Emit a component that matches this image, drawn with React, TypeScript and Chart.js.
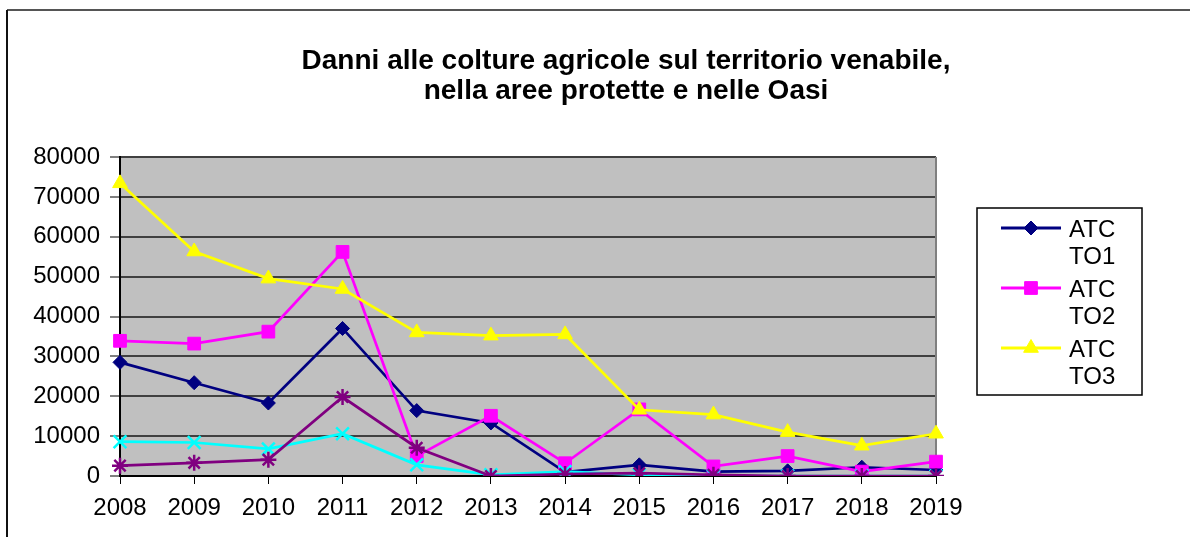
import React, { useEffect, useRef } from 'react';
import { Chart, registerables } from 'chart.js';
import { drawPoint } from 'chart.js/helpers';

Chart.register(...registerables);

const years = ['2008', '2009', '2010', '2011', '2012', '2013', '2014', '2015', '2016', '2017', '2018', '2019'];
const atcTo1 = [28500, 23400, 18300, 37000, 16400, 13300, 1000, 2800, 1100, 1300, 2200, 1500];
const atcTo2 = [33900, 33200, 36200, 56200, 5000, 15100, 3200, 16700, 2400, 5000, 1100, 3600];
const atcTo3 = [73400, 56300, 49500, 46900, 36000, 35200, 35500, 16600, 15400, 11000, 7600, 10600];
const serie4 = [8600, 8400, 6800, 10600, 2800, 300, 1100, 300, 0, 0, 0, 0];
const serie5 = [2600, 3300, 4100, 19800, 7100, 0, 500, 700, 300, 0, 0, 0];
const yTicks = [0, 10000, 20000, 30000, 40000, 50000, 60000, 70000, 80000];
const titleLines = ['Danni alle colture agricole sul territorio venabile,', 'nella aree protette e nelle Oasi'];
const legendCount = 3;

const FONT = '"Liberation Sans", Arial, sans-serif';

const decorPlugin = {
  id: 'decor',
  beforeDraw(chart: any) {
    const { ctx, chartArea } = chart;
    ctx.save();
    ctx.fillStyle = '#C0C0C0';
    ctx.fillRect(chartArea.left, chartArea.top, chartArea.right - chartArea.left, chartArea.bottom - chartArea.top);
    ctx.restore();
  },
  beforeDatasetsDraw(chart: any) {
    const { ctx, chartArea } = chart;
    ctx.save();
    ctx.strokeStyle = '#808080';
    ctx.lineWidth = 2;
    ctx.beginPath();
    ctx.moveTo(chartArea.right, chartArea.top);
    ctx.lineTo(chartArea.right, chartArea.bottom);
    ctx.stroke();
    ctx.restore();
  },
  afterDraw(chart: any) {
    const { ctx } = chart;
    ctx.save();
    // outer frame
    ctx.strokeStyle = '#555555';
    ctx.lineWidth = 2;
    ctx.beginPath();
    ctx.moveTo(7, 10);
    ctx.lineTo(1190, 10);
    ctx.stroke();
    ctx.strokeStyle = '#111111';
    ctx.beginPath();
    ctx.moveTo(7, 10);
    ctx.lineTo(7, 537);
    ctx.stroke();

    // title
    ctx.fillStyle = '#000';
    ctx.font = `bold 28px ${FONT}`;
    ctx.textAlign = 'center';
    ctx.textBaseline = 'alphabetic';
    titleLines.forEach((t, i) => ctx.fillText(t, 626, 69 + i * 30));

    // legend
    const bx = 977, by = 208, bw = 165, bh = 187;
    ctx.fillStyle = '#fff';
    ctx.fillRect(bx, by, bw, bh);
    ctx.strokeStyle = '#000';
    ctx.lineWidth = 1.5;
    ctx.strokeRect(bx, by, bw, bh);
    const ds = chart.data.datasets.slice(0, legendCount);
    ds.forEach((d: any, i: number) => {
      const cy = 228 + i * 60;
      ctx.strokeStyle = d.borderColor;
      ctx.lineWidth = 3;
      ctx.beginPath();
      ctx.moveTo(1001, cy);
      ctx.lineTo(1061, cy);
      ctx.stroke();
      ctx.fillStyle = d.borderColor;
      ctx.strokeStyle = d.borderColor;
      ctx.lineWidth = 1;
      drawPoint(ctx, { pointStyle: d.pointStyle, radius: d.pointRadius, rotation: 0, borderWidth: 1 }, 1031, cy);
      ctx.fillStyle = '#000';
      ctx.font = `24px ${FONT}`;
      ctx.textAlign = 'left';
      ctx.textBaseline = 'alphabetic';
      const words = String(d.label).split(' ');
      words.forEach((w: string, j: number) => ctx.fillText(w, 1069, cy + 9 + j * 27));
    });
    ctx.restore();
  },
};

function ds(label: string, data: number[], color: string, pointStyle: string, radius: number, order: number) {
  return {
    label,
    data,
    borderColor: color,
    backgroundColor: color,
    pointBackgroundColor: color,
    pointBorderColor: color,
    pointStyle,
    pointRadius: radius,
    pointHoverRadius: radius,
    pointBorderWidth: pointStyle === 'crossRot' || pointStyle === 'star' ? 2.5 : 1,
    borderWidth: 2.7,
    tension: 0,
    fill: false,
    order,
  };
}

export default function App() {
  const ref = useRef<HTMLCanvasElement | null>(null);
  useEffect(() => {
    document.body.style.margin = '0';
    const canvas = ref.current!;
    const chart = new Chart(canvas, {
      type: 'line',
      data: {
        labels: years,
        datasets: [
          ds('ATC TO1', atcTo1, '#000080', 'rectRot', 7, 4),
          ds('ATC TO2', atcTo2, '#FF00FF', 'rect', 9, 3),
          ds('ATC TO3', atcTo3, '#FFFF00', 'triangle', 8.5, 2),
          ds('Serie 4', serie4, '#00FFFF', 'crossRot', 9, 1),
          ds('Serie 5', serie5, '#800080', 'star', 8, 0),
        ] as any,
      },
      options: {
        animation: false,
        responsive: true,
        maintainAspectRatio: false,
        devicePixelRatio: 1,
        layout: { padding: { left: 8, top: 157, right: 254, bottom: 16 } },
        plugins: {
          legend: { display: false },
          title: { display: false },
          tooltip: { enabled: false },
        },
        scales: {
          x: {
            type: 'category',
            offset: false,
            grid: { display: true, drawOnChartArea: false, tickLength: 8, tickColor: '#000', lineWidth: 1 },
            border: { color: '#000', width: 2 },
            ticks: { font: { family: FONT, size: 24 }, color: '#000', padding: 10, maxRotation: 0, autoSkip: false },
            afterFit: (s: any) => { s.height = 45; },
          },
          y: {
            min: 0,
            max: 80000,
            afterBuildTicks: (s: any) => { s.ticks = yTicks.map((v) => ({ value: v })); },
            ticks: { font: { family: FONT, size: 24 }, color: '#000', padding: 10, callback: (v: any) => String(v) },
            grid: { color: '#404040', lineWidth: 2, tickLength: 10, tickColor: '#000', tickWidth: 1 },
            border: { color: '#000', width: 2 },
            afterFit: (s: any) => { s.width = 112; },
          },
        },
      } as any,
      plugins: [decorPlugin],
    });
    return () => chart.destroy();
  }, []);
  return (
    <div style={{ position: 'relative', width: 1190, height: 537 }}>
      <canvas ref={ref} />
    </div>
  );
}
